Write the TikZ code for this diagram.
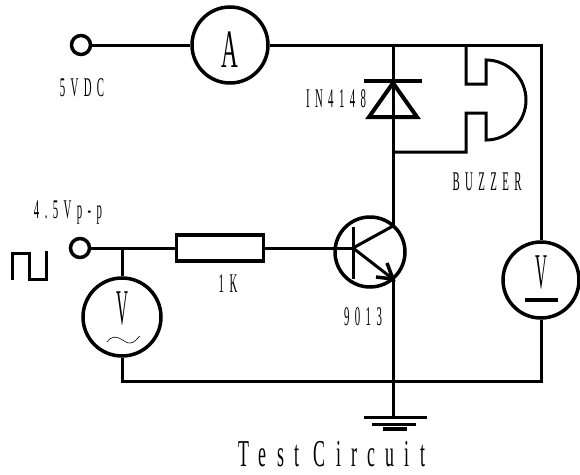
\documentclass[tikz,border=0pt]{standalone}
\usepackage{fontspec}
\usepackage{tikz}
\usetikzlibrary{shapes,calc}
\newfontfamily\labelfont[FakeStretch=.4,LetterSpace=20]{Liberation Serif}
\newfontfamily\titlefont[FakeStretch=.47,LetterSpace=27]{Liberation Serif}
\newfontfamily\meterfont[FakeStretch=.33]{Liberation Serif}
\newfontfamily\ammeterfont[FakeStretch=.43]{Liberation Serif}
\tikzset{
wire/.style = {line width = 3pt},
part/.style = {draw, line width = 3.5pt, inner sep = 0pt},
meter/.style = {part, circle, minimum size = 76pt},
terminal/.style = {part, circle, minimum size = 19pt},
small label/.style = {inner sep = 0pt, font = \labelfont\fontsize{27}{28}\selectfont},
big label/.style = {inner sep = 0pt, font = \titlefont\fontsize{38}{40}\selectfont},
meter label/.style = {inner sep = 0pt, font = \meterfont\fontsize{50}{50}\selectfont}
}
\begin{document}
\begin{tikzpicture}[x = 1pt, y = -1pt]
\useasboundingbox (0,0) rectangle (580,474);
\node[terminal] (t1) at (81,45) {};
\node[terminal] (t2) at (80,248) {};
\node[meter] (am) at (230,45) {};
\node[meter, minimum size = 78pt] (vac) at (122,317) {};
\node[meter] (vdc) at (541,280) {};
\node[part, minimum width = 87pt, minimum height = 26pt] (r1) at (220,248) {};
\node[draw, circle, line width = 3.5pt, minimum size = 70pt, inner sep = 0pt] (q1) at (370,252) {};
\coordinate (top) at (393,45);
\coordinate (tr) at (541,45);
\coordinate (tap) at (393,152);
\coordinate (c) at (393,226);
\coordinate (e) at (393,279);
\coordinate (b) at (353,248);
\coordinate (b1) at (353,227);
\coordinate (b2) at (353,279);
\coordinate (bl) at (122,381);
\coordinate (jn) at (393,381);
\coordinate (br) at (541,381);
\coordinate (gnd) at (393,417);
\coordinate (jv) at (122,248);
\draw[wire] (t1) -- (am);
\draw[wire] (am) -- (tr) -- (vdc);
\draw[wire] (top) -- (c);
\draw[wire] (t2) -- (r1);
\draw[wire] (r1) -- (b);
\draw[wire] (jv) -- (vac);
\draw[wire] (vac) -- (bl) -- (br) -- (vdc);
\draw[wire] (b1) -- (b2);
\draw[wire] (b) -- (c);
\draw[wire] (b) -- (e);
\draw[line width = 3.5pt] (376,277) -- (e) -- (387,263);
\draw[wire] (e) -- (gnd);
\draw[line width = 3.5pt] (364,81) -- (422,81);
\draw[line width = 4pt, line join = miter] (393,83) -- (417,117) -- (369,117) -- cycle;
\draw[wire] (466,45) -- (466,84) -- (486,84) -- (486,60) arc (-90:90:40) -- (486,113) -- (466,113) -- (466,152) -- (tap);
\draw[wire] (364,417) -- (427,417);
\draw[wire] (372,424) -- (416,424);
\draw[line width = 3.5pt] (383,429) -- (407,429);
\draw[wire] (12,280) -- (12,253) -- (29,253) -- (29,279) -- (46,279) -- (46,251);
\draw[line width = 3.5pt] (525,300) -- (558,300);
\draw[line width = .6pt] (107,342) .. controls (116,330) and (124,344) .. (130,343) .. controls (135,343) and (137,338) .. (140,336);
\node[meter label, font = \ammeterfont\fontsize{54}{54}\selectfont] (la) at (230,50) {A};
\node[meter label] (lv1) at (122,309) {V};
\node[meter label] (lv2) at (541,273) {V};
\node[small label] (l5v) at (82,88) {5VDC};
\node[small label] (ld) at (336,99) {IN4148};
\node[small label] (lbz) at (487,182) {BUZZER};
\node[small label] (l45) at (68,212) {4.5Vp-p};
\node[small label] (l1k) at (228,284) {1K};
\node[small label] (lq) at (363,317) {9013};
\node[big label] (title) at (332,454) {Test Circuit};
\end{tikzpicture}
\end{document}
